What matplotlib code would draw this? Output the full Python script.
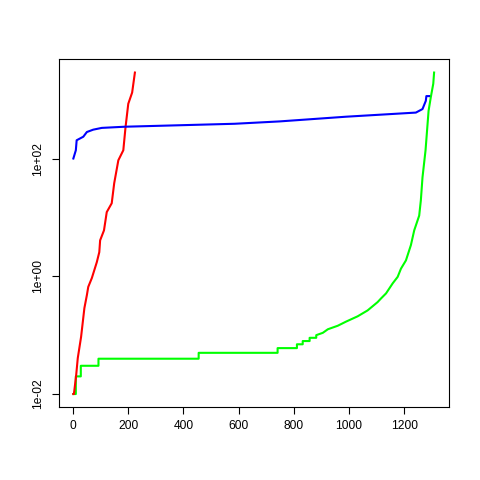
import matplotlib
matplotlib.use("Agg")
import matplotlib.pyplot as plt
import numpy as np

plt.rcParams['font.family'] = ['Liberation Sans', 'DejaVu Sans']

# red series (index, log10 value)
red_x = [1, 3, 11, 17, 29, 41, 50, 55, 68, 86, 95, 98, 112, 122, 140, 149, 164, 182, 190, 200, 214, 224]
red_log = [-2.0, -2.0, -1.69, -1.39, -1.03, -0.54, -0.32, -0.18, -0.03, 0.24, 0.41, 0.61, 0.78,
           1.09, 1.24, 1.58, 1.97, 2.14, 2.53, 2.93, 3.12, 3.46]

# blue series
blue_x = [1, 10, 13, 37, 50, 73, 104, 188, 585, 748, 989, 1242, 1266, 1278, 1280, 1290]
blue_log = [2.0, 2.14, 2.31, 2.37, 2.45, 2.49, 2.52, 2.54, 2.59, 2.63, 2.71, 2.78, 2.84, 2.98, 3.06, 3.06]

# green series
green_x = [1, 10, 10, 28, 28, 92, 92, 455, 455, 741, 741, 811, 811, 832, 832, 857, 857, 881, 881,
           905, 923, 941, 959, 989, 1031, 1067, 1103, 1115, 1134, 1158, 1176, 1188, 1206, 1224, 1236,
           1254, 1260, 1266, 1277, 1288, 1296, 1305, 1308]
green_log = [-2.0, -2.0, -1.70, -1.70, -1.52, -1.52, -1.40, -1.40, -1.30, -1.30, -1.22, -1.22, -1.155,
             -1.155, -1.10, -1.10, -1.045, -1.045, -1.0,
             -0.96, -0.90, -0.87, -0.84, -0.77, -0.68, -0.58, -0.44, -0.38, -0.29, -0.12, -0.01, 0.13,
             0.27, 0.53, 0.78,
             1.03, 1.29, 1.68, 2.14, 2.81, 3.04, 3.27, 3.46]

xticks = [0, 200, 400, 600, 800, 1000, 1200]
yticks = [1e-2, 1e0, 1e2]
ylabels = ["1e-02", "1e+00", "1e+02"]

fig = plt.figure(figsize=(4.8, 4.8), dpi=100)
ax = fig.add_axes([59/480, 73/480, 390/480, 348/480])

ax.plot(green_x, 10 ** np.array(green_log), color="#00FF00", lw=1.5)
ax.plot(red_x, 10 ** np.array(red_log), color="#FF0000", lw=1.5)
ax.plot(blue_x, 10 ** np.array(blue_log), color="#0000FF", lw=1.5)

ax.set_yscale("log")
ax.set_xlim(-51, 1362)
ax.set_ylim(10 ** -2.22, 10 ** 3.69)
ax.minorticks_off()
ax.set_xticks(xticks)
ax.set_xticklabels([str(t) for t in xticks])
ax.set_yticks(yticks)
ax.set_yticklabels(ylabels, rotation=90, va="center")
ax.tick_params(direction="out", length=5.2, width=0.8, labelsize=8.64, color="black")
ax.tick_params(axis="x", pad=4.5)
ax.tick_params(axis="y", pad=5.5)
for s in ax.spines.values():
    s.set_linewidth(0.8)

fig.savefig("out.png", dpi=100)
